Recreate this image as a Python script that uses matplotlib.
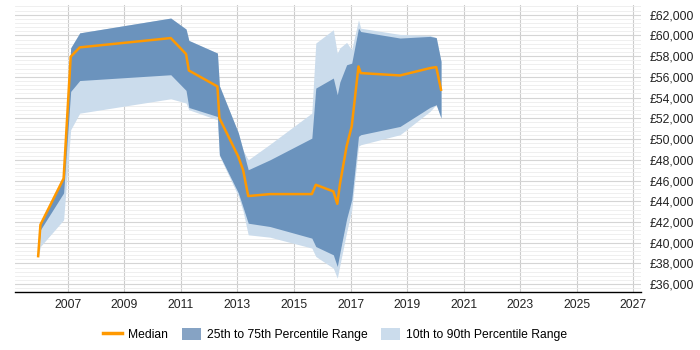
import matplotlib
matplotlib.use("Agg")
import matplotlib.pyplot as plt
from matplotlib.ticker import MultipleLocator, FuncFormatter
from matplotlib.patches import Patch
from matplotlib.lines import Line2D

dates = [2005.95, 2006.03, 2006.85, 2007.10, 2007.42, 2010.64, 2011.18, 2011.28,
         2012.29, 2012.36, 2013.03, 2013.20, 2013.38, 2014.15, 2015.63, 2015.77,
         2016.39, 2016.53, 2016.62, 2016.86, 2017.04, 2017.28, 2017.36, 2018.75,
         2019.81, 2020.03, 2020.20]
median = [38700, 41730, 46200, 57950, 58850, 59750, 58210, 56620,
          55080, 52030, 48300, 47000, 44500, 44690, 44690, 45590,
          44950, 43750, 45590, 49300, 51220, 57010, 56370, 56140,
          56850, 56950, 54760]
p25 = [38650, 41250, 44800, 54600, 55650, 56210, 54700, 53050,
       52180, 48490, 44800, 43400, 41880, 41560, 40440, 39630,
       38830, 37700, 39000, 42300, 44140, 50260, 50420, 51220,
       53060, 53310, 52030]
p75 = [38750, 41880, 46300, 58800, 60250, 61680, 60620, 59520,
       58300, 55150, 50600, 48900, 47040, 48000, 50090, 54920,
       55890, 54280, 55500, 57170, 57330, 60710, 60380, 59750,
       59910, 59790, 57500]
p10 = [38600, 39630, 42200, 50900, 52500, 53890, 53480, 52830,
       51860, 48400, 44500, 43000, 40760, 40530, 39480, 38670,
       37540, 36580, 37800, 41000, 43170, 49300, 49450, 50420,
       52670, 53340, 52030]
p90 = [38750, 41880, 46300, 58800, 60250, 61680, 60620, 59520,
       58300, 55150, 50600, 48900, 48000, 49500, 52510, 59270,
       60550, 58300, 58800, 59330, 58620, 61520, 60700, 60100,
       60000, 59790, 57500]
year_ticks = list(range(2007, 2028, 2))

DARK = "#6b93bd"
LIGHT = "#cbdcec"
ORANGE = "#ff9900"

plt.rcParams['font.family'] = ['Liberation Sans', 'DejaVu Sans']
fig = plt.figure(figsize=(7, 3.5), dpi=100)
ax = fig.add_axes([0.021, 0.166, 0.895, 0.82])

ax.fill_between(dates, p10, p90, color=LIGHT, linewidth=0, zorder=2)
ax.fill_between(dates, p25, p75, color=DARK, linewidth=0, zorder=3)
ax.plot(dates, median, color=ORANGE, linewidth=1.8, zorder=4)

ax.set_xlim(2005.12, 2027.28)
ax.set_ylim(35250, 62950)
ax.set_xticks(year_ticks)
ax.set_xticklabels([str(y) for y in year_ticks])
ax.yaxis.set_major_locator(MultipleLocator(2000))
ax.yaxis.set_minor_locator(MultipleLocator(400))
ax.yaxis.set_major_formatter(FuncFormatter(lambda v, p: "£{:,.0f}".format(v)))
ax.yaxis.tick_right()
ax.tick_params(axis='y', which='both', length=0, labelsize=8.7, pad=6, colors='#222222')
ax.tick_params(axis='x', length=0, labelsize=8.7, pad=5, colors='#222222')

ax.grid(axis='x', color='#cccccc', linewidth=0.8, zorder=1)
ax.grid(axis='y', which='major', color='#d5d5d5', linewidth=0.8, zorder=1)
ax.grid(axis='y', which='minor', color='#ececec', linewidth=0.6, zorder=1)
ax.set_axisbelow(True)
for s in ['left', 'right', 'top']:
    ax.spines[s].set_visible(False)
ax.spines['bottom'].set_color('#000000')
ax.spines['bottom'].set_linewidth(1.0)

handles = [Line2D([0], [0], color=ORANGE, linewidth=2.5),
           Patch(facecolor='#86a3c4', edgecolor='none'),
           Patch(facecolor=LIGHT, edgecolor='none')]
labels = ["Median", "25th to 75th Percentile Range", "10th to 90th Percentile Range"]
fig.legend(handles, labels, loc='center', bbox_to_anchor=(0.479, 0.045), ncol=3,
           frameon=False, fontsize=8.7, handlelength=1.6, handleheight=1.2,
           columnspacing=1.1, handletextpad=0.5)

fig.savefig("out.png", dpi=100)
